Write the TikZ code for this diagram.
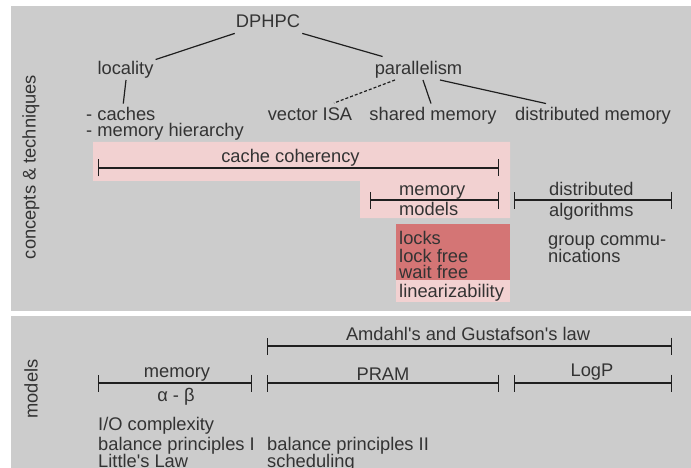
\documentclass[tikz,border=0pt]{standalone}
\usepackage{fontspec}
\setmainfont{Liberation Sans}
\usetikzlibrary{arrows.meta,calc}
\definecolor{panelgray}{HTML}{CCCCCC}
\definecolor{pinklight}{HTML}{F2D1D1}
\definecolor{pinkdark}{HTML}{D47575}
\definecolor{textc}{HTML}{333333}
\definecolor{linec}{HTML}{1F1F1F}
\tikzset{
  txt/.style={inner sep=0pt, text=textc, font=\fontsize{18.3}{20}\selectfont, anchor=base},
  ltxt/.style={txt, anchor=base west},
  rottxt/.style={inner sep=0pt, text=textc, font=\fontsize{18.3}{20}\selectfont, rotate=90},
  treeline/.style={draw=linec, line width=1.2pt},
  dashline/.style={treeline, dashed, dash pattern=on 3pt off 2pt},
  brk/.style={draw=linec, line width=1.4pt, {Bar[width=17pt,line width=1.4pt]}-{Bar[width=17pt,line width=1.4pt]}},
}
\begin{document}
\begin{tikzpicture}[x=1pt,y=-1pt]
\useasboundingbox (0,0) rectangle (691,468);
% panels
\fill[panelgray] (11,6) rectangle (691,311);
\fill[panelgray] (11,316) rectangle (691,468);
% highlight boxes
\fill[pinklight] (93,142) -- (510,142) -- (510,218) -- (360,218) -- (360,181) -- (93,181) -- cycle;
\fill[pinkdark] (396,224) rectangle (510,280);
\fill[pinklight] (396,280) rectangle (510,302);
% side labels
\node[rottxt] (lblct) at (31,167) {concepts \& techniques};
\node[rottxt] (lblmod) at (31,389) {models};
% tree
\node[txt] (dphpc) at (268,28) {DPHPC};
\node[txt] (locality) at (125.5,75) {locality};
\node[txt] (parallelism) at (418.5,75) {parallelism};
\node[ltxt] (caches) at (86,121) {- caches};
\node[ltxt] (memhier) at (86,137) {- memory hierarchy};
\node[txt] (vecisa) at (310,121) {vector ISA};
\node[txt] (shmem) at (433,121) {shared memory};
\node[txt] (distmem) at (593,121) {distributed memory};
\draw[treeline] ([shift={(-1,5)}]dphpc.south west) -- ([shift={(2,-2)}]locality.north east);
\draw[treeline] ([shift={(2,5)}]dphpc.south east) -- ([shift={(8,-5)}]parallelism.north west);
\draw[treeline] ([shift={(0.5,1)}]locality.south) -- ([shift={(2.5,-4)}]caches.north);
\draw[dashline] ([shift={(-23.5,1)}]parallelism.south) -- ([shift={(24,-5)}]vecisa.north);
\draw[treeline] ([shift={(4.5,1)}]parallelism.south) -- ([shift={(-2,-4)}]shmem.north);
\draw[treeline] ([shift={(21.5,1)}]parallelism.south) -- ([shift={(-47,-4)}]distmem.north);
% brackets top panel
\coordinate (ccA) at (98,168); \coordinate (ccB) at (499,168);
\draw[brk] (ccA) -- (ccB);
\node[txt] (cc) at (290.5,163) {cache coherency};
\coordinate (mmA) at (370,200); \coordinate (mmB) at (499,200);
\draw[brk] (mmA) -- (mmB);
\node[ltxt] (mm1) at (399,195) {memory};
\node[ltxt] (mm2) at (399,215) {models};
\coordinate (daA) at (514,200); \coordinate (daB) at (672,200);
\draw[brk] (daA) -- (daB);
\node[ltxt] (da1) at (549,195) {distributed};
\node[ltxt] (da2) at (549,216) {algorithms};
\node[ltxt] (locks) at (399,244) {locks};
\node[ltxt] (lockfree) at (399,262) {lock free};
\node[ltxt] (waitfree) at (399,278) {wait free};
\node[ltxt] (linear) at (399,297) {linearizability};
\node[ltxt] (gc1) at (548,245) {group commu-};
\node[ltxt] (gc2) at (548,262) {nications};
% lower panel
\coordinate (amA) at (267,346); \coordinate (amB) at (672,346);
\draw[brk] (amA) -- (amB);
\node[txt] (amdahl) at (468,340) {Amdahl\textquotesingle s and Gustafson\textquotesingle s law};
\coordinate (meA) at (98,383); \coordinate (meB) at (252,383);
\draw[brk] (meA) -- (meB);
\node[txt] (mem) at (177,377) {memory};
\node[txt] (ab) at (176,401) {α - β};
\coordinate (prA) at (267,383); \coordinate (prB) at (499,383);
\draw[brk] (prA) -- (prB);
\node[txt] (pram) at (383,380) {PRAM};
\coordinate (lgA) at (514,383); \coordinate (lgB) at (672,383);
\draw[brk] (lgA) -- (lgB);
\node[txt] (logp) at (592,376) {LogP};
\node[ltxt] (io) at (98,430) {I/O complexity};
\node[ltxt] (bp1) at (98,450) {balance principles I};
\node[ltxt] (little) at (98,467) {Little\textquotesingle s Law};
\node[ltxt] (bp2) at (267,450) {balance principles II};
\node[ltxt] (sched) at (267,467) {scheduling};
\end{tikzpicture}
\end{document}
